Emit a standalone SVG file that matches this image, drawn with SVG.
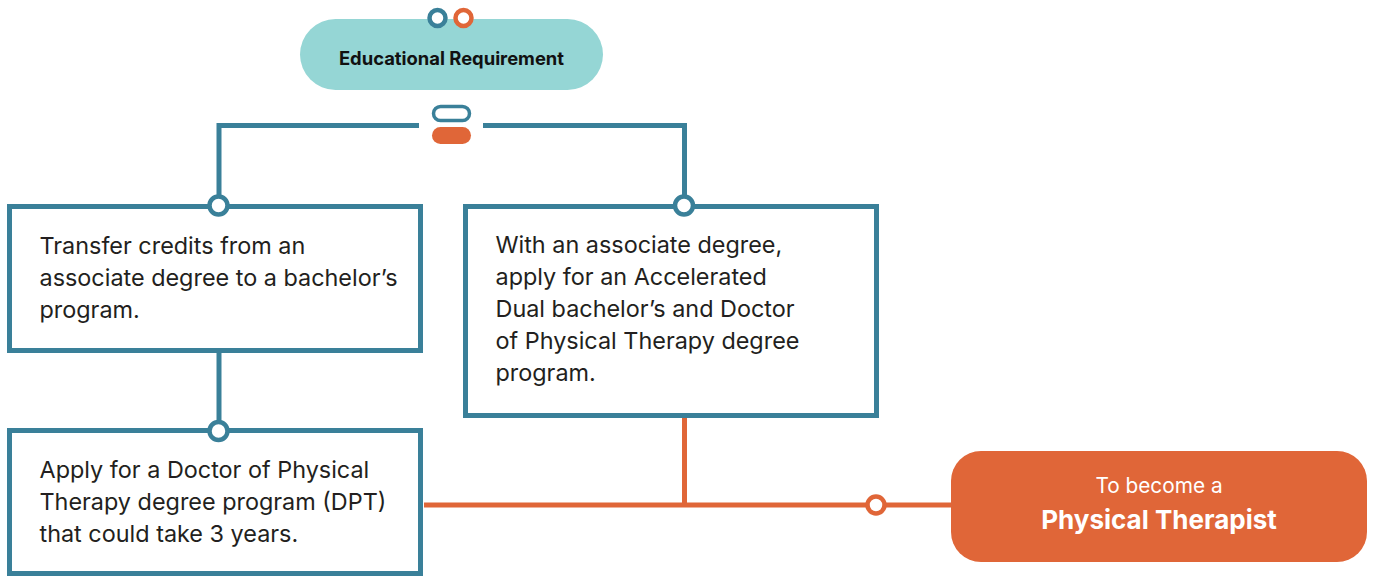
<svg xmlns="http://www.w3.org/2000/svg" width="1373" height="577" viewBox="0 0 1373 577">
<style>
.box{fill:#fff;stroke:#3a8099;stroke-width:5}
.t{font-family:Inter,"Noto Sans",sans-serif;font-size:23.4px;fill:#231f20}
.tc{stroke:#3a8099;stroke-width:5;fill:none}
.oc{stroke:#e06638;stroke-width:5;fill:none}
.dot{fill:#fff;stroke-width:4.5}
</style>
<rect width="1373" height="577" fill="#fff"/>
<g id="connectors">
<path class="tc" d="M219,206 V125.5 H419 M483,125.5 H684.5 V206"/>
<path class="tc" d="M219,352 V431"/>
<path class="oc" d="M684.5,418 V505 M424,505 H952"/>
</g>
<g id="edu">
<rect x="300" y="19" width="303" height="71" rx="35.5" fill="#95d6d5"/>
<text x="451.5" y="65" text-anchor="middle" font-family="Inter,'Noto Sans',sans-serif" font-size="18.4" font-weight="700" fill="#111">Educational Requirement</text>
<circle class="dot" cx="437.5" cy="18" r="8" stroke="#3a8099"/>
<circle class="dot" cx="463.5" cy="18" r="8" stroke="#e06638"/>
<rect x="433.5" y="106.5" width="36" height="14" rx="7" fill="#fff" stroke="#3a8099" stroke-width="3.5"/>
<rect x="432" y="127" width="39" height="17" rx="8.5" fill="#e06638"/>
</g>
<g id="box1">
<rect class="box" x="9.5" y="206.5" width="411" height="144"/>
<text class="t"><tspan x="39.5" y="254">Transfer credits from an</tspan><tspan x="39.5" y="286">associate degree to a bachelor’s</tspan><tspan x="39.5" y="318">program.</tspan></text>
<circle class="dot" cx="218.5" cy="205.5" r="9" stroke="#3a8099"/>
</g>
<g id="box2">
<rect class="box" x="465.5" y="206.5" width="411" height="209"/>
<text class="t"><tspan x="495.5" y="253">With an associate degree,</tspan><tspan x="495.5" y="285">apply for an Accelerated</tspan><tspan x="495.5" y="317">Dual bachelor’s and Doctor</tspan><tspan x="495.5" y="349">of Physical Therapy degree</tspan><tspan x="495.5" y="381">program.</tspan></text>
<circle class="dot" cx="684" cy="205.5" r="9" stroke="#3a8099"/>
</g>
<g id="box3">
<rect class="box" x="9.5" y="430.5" width="411" height="143"/>
<text class="t"><tspan x="39.5" y="478">Apply for a Doctor of Physical</tspan><tspan x="39.5" y="510">Therapy degree program (DPT)</tspan><tspan x="39.5" y="542">that could take 3 years.</tspan></text>
<circle class="dot" cx="218.5" cy="431" r="9" stroke="#3a8099"/>
</g>
<g id="goal">
<circle class="dot" cx="876" cy="505" r="8.5" stroke="#e06638"/>
<rect x="951" y="451" width="416" height="111" rx="30" fill="#e06638"/>
<text x="1159" y="493" text-anchor="middle" font-family="Inter,'Noto Sans',sans-serif" font-size="20.8" fill="#fff">To become a</text>
<text x="1159" y="529" text-anchor="middle" font-family="Inter,'Noto Sans',sans-serif" font-size="26" font-weight="700" fill="#fff">Physical Therapist</text>
</g>
</svg>
